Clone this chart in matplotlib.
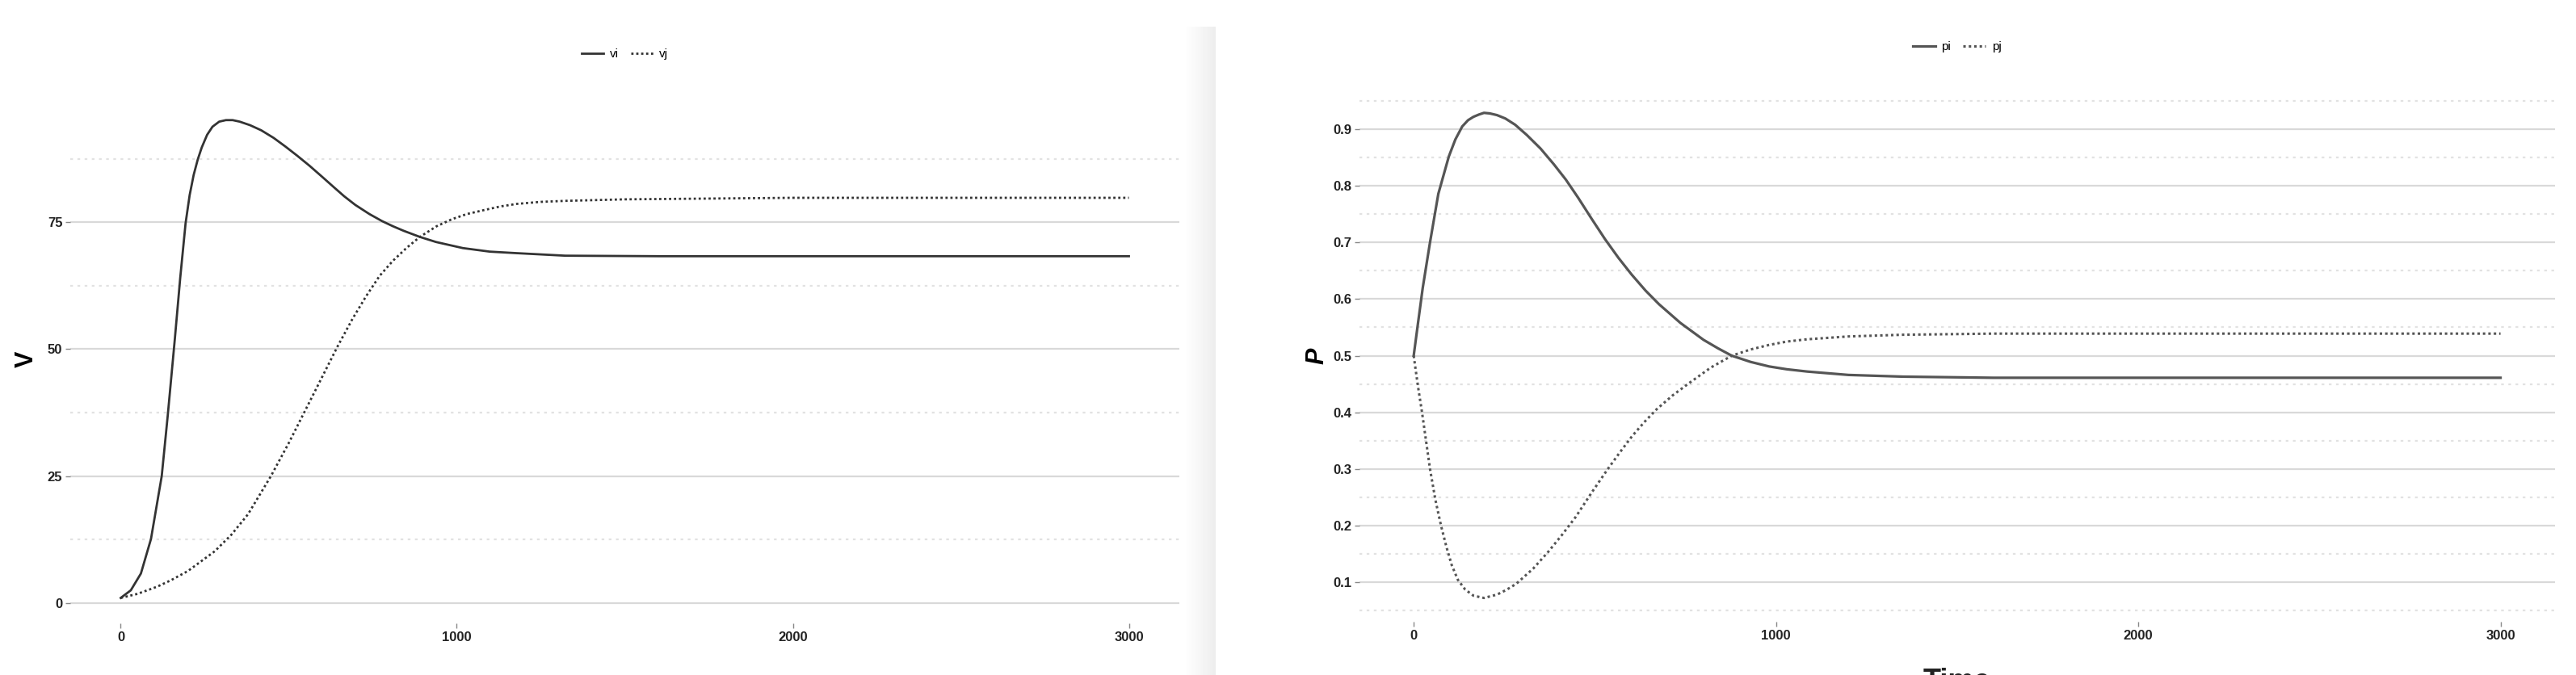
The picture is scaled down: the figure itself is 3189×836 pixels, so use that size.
import numpy as np
import matplotlib.pyplot as plt

plt.rcParams['font.family'] = ['Liberation Sans Narrow', 'Liberation Sans', 'DejaVu Sans']

# left panel: vi / vj over time
t_vi = [0, 30, 60, 90, 122, 140, 161, 177, 193, 205, 217, 229, 241, 257, 273, 293, 313, 333, 354, 385,
        418, 455, 490, 525, 562, 600, 634, 665, 698, 740, 778, 810, 842, 890, 938, 1018, 1098, 1178,
        1323, 1600, 2000, 3000]
vi = [1, 2.5, 5.8, 12.6, 25, 37, 52, 64, 74.8, 80.3, 84.3, 87.3, 89.7, 92.2, 93.8, 94.8, 95.1, 95.1, 94.8, 94.1,
      93.1, 91.6, 89.9, 88.1, 86.1, 83.9, 81.9, 80.1, 78.4, 76.6, 75.2, 74.2, 73.3, 72.1, 71.1, 69.9, 69.2, 68.9,
      68.4, 68.3, 68.3, 68.3]

t_vj = [0, 50, 108, 150, 200, 280, 330, 379, 447, 500, 545, 600, 645, 690, 730, 770, 810, 850, 890, 940,
        986, 1030, 1082, 1130, 1178, 1250, 1323, 1500, 2000, 3000]
vj = [1, 1.8, 3.2, 4.5, 6.3, 10.2, 13.5, 17.5, 25, 31.5, 37.4, 44.6, 50.5, 56, 60.4, 64.4, 67.4, 69.9, 72.1, 74.2,
      75.6, 76.6, 77.4, 78.1, 78.6, 79, 79.2, 79.5, 79.8, 79.8]

# right panel: pi / pj over time
t_pi = [0, 12, 25, 45, 68, 97, 115, 134, 150, 165, 180, 194, 210, 230, 253, 280, 312, 350, 387, 420,
        454, 490, 528, 565, 602, 640, 677, 736, 800, 840, 878, 930, 981, 1030, 1086, 1200, 1350, 1600, 2000, 3000]
pi = [0.5, 0.558, 0.62, 0.70, 0.786, 0.852, 0.882, 0.905, 0.916, 0.922, 0.926, 0.929, 0.928, 0.925, 0.919, 0.908,
      0.890, 0.866, 0.838, 0.811, 0.779, 0.743, 0.706, 0.673, 0.643, 0.615, 0.591, 0.558, 0.528, 0.513,
      0.50, 0.489, 0.481, 0.476, 0.472, 0.466, 0.463, 0.461, 0.461, 0.461]

t_pj = [0, 12, 23, 45, 60, 75, 90, 105, 122, 142, 165, 194, 230, 255, 283, 330, 372, 410, 447, 490,
        536, 570, 603, 637, 670, 715, 759, 820, 878, 930, 981, 1030, 1086, 1200, 1350, 1600, 2000, 3000]
pj = [0.5, 0.445, 0.40, 0.30, 0.245, 0.201, 0.163, 0.130, 0.104, 0.087, 0.076, 0.072, 0.078, 0.086, 0.097, 0.124,
      0.154, 0.184, 0.215, 0.257, 0.30, 0.330, 0.358, 0.383, 0.405, 0.430, 0.451, 0.479, 0.50, 0.511,
      0.519, 0.525, 0.529, 0.534, 0.537, 0.539, 0.539, 0.539]

x_ticks = [0, 1000, 2000, 3000]

fig = plt.figure(figsize=(31.89, 8.36), dpi=100)
fig.patch.set_facecolor('white')


def style_axis(ax, major, minor):
    for s in ax.spines.values():
        s.set_visible(False)
    for y in minor:
        ax.axhline(y, color='#e2e2e2', lw=1.6, ls=(0, (1.5, 2.5)), zorder=0)
    for y in major:
        ax.axhline(y, color='#d9d9d9', lw=1.6, zorder=0)
    ax.set_xlim(-150, 3150)
    ax.set_xticks(x_ticks)
    ax.set_yticks(major)
    ax.tick_params(length=4, width=1, color='#888888', pad=3, labelsize=12, labelcolor='#222222')
    for lab in ax.get_xticklabels() + ax.get_yticklabels():
        lab.set_fontweight('bold')


# left chart
ax1 = fig.add_axes([0.0273, 0.0766, 0.4305, 0.7823])
style_axis(ax1, [0, 25, 50, 75], [12.5, 37.5, 62.5, 87.5])
ax1.set_ylim(-4, 100)
ax1.plot(t_vi, vi, color='#333333', lw=2, label='vi', solid_joinstyle='round')
ax1.plot(t_vj, vj, color='#333333', lw=2, ls=(0, (1, 1.2)), label='vj')
ax1.set_ylabel('V', fontsize=22, fontweight='bold', labelpad=8)
ax1.legend(loc='center', bbox_to_anchor=(0.5, 1.078), ncol=2, frameon=False,
           fontsize=11, handlelength=1.8, columnspacing=1.0, handletextpad=0.5)

# right chart
ax2 = fig.add_axes([0.5277, 0.0789, 0.4641, 0.7883])
style_axis(ax2, [0.1, 0.2, 0.3, 0.4, 0.5, 0.6, 0.7, 0.8, 0.9],
           [0.05, 0.15, 0.25, 0.35, 0.45, 0.55, 0.65, 0.75, 0.85, 0.95])
ax2.set_ylim(0.03, 0.97)
ax2.set_yticklabels(['0.1', '0.2', '0.3', '0.4', '0.5', '0.6', '0.7', '0.8', '0.9'], fontweight='bold')
ax2.plot(t_pi, pi, color='#555555', lw=2.3, label='pi', solid_joinstyle='round')
ax2.plot(t_pj, pj, color='#555555', lw=2.2, ls=(0, (1, 1.2)), label='pj')
ax2.set_ylabel('P', fontsize=22, fontweight='bold', fontstyle='italic', labelpad=3)
ax2.legend(loc='center', bbox_to_anchor=(0.5, 1.08), ncol=2, frameon=False,
           fontsize=11, handlelength=1.8, columnspacing=1.0, handletextpad=0.5)

# x label of the right screenshot, mostly cut off by the bottom edge
fig.text(0.7597, 0.0108, 'Time', ha='center', va='top', fontsize=26, fontweight='bold',
         family=['Liberation Sans', 'DejaVu Sans'], color='#222222')

# faint shadow at the right edge of the left screenshot
sh = fig.add_axes([1465 / 3189, 0.0, 40 / 3189, 0.96])
sh.imshow(np.linspace(1.0, 0.93, 40)[None, :], cmap='gray', vmin=0, vmax=1, aspect='auto')
sh.axis('off')

fig.savefig('out.png', dpi=100)
